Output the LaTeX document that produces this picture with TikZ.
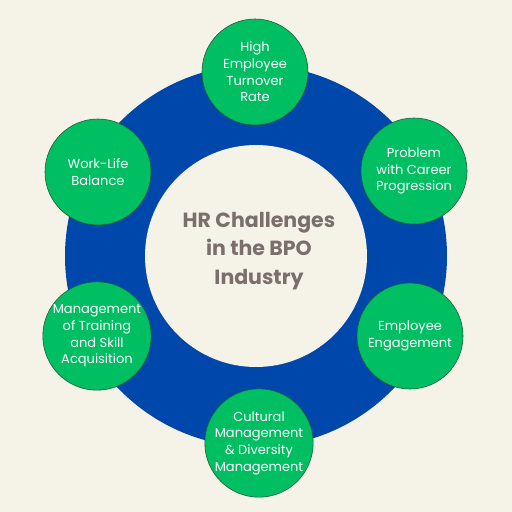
\documentclass[tikz,border=0pt]{standalone}
\usepackage{fontspec}
\setmainfont{Poppins}
\definecolor{bgcream}{HTML}{F5F2E8}
\definecolor{ringblue}{HTML}{0047AB}
\definecolor{leafgreen}{HTML}{00BF63}
\definecolor{edgegreen}{HTML}{1F5E38}
\definecolor{hubtext}{HTML}{7B6F6C}
\tikzset{
  challenge/.style={circle,minimum size=106pt,inner sep=0pt,fill=leafgreen,
    draw=edgegreen,line width=0.6pt,text=white,align=center,
    font=\fontsize{13}{16.7}\selectfont},
  hub/.style={align=center,text=hubtext,font=\bfseries\fontsize{20.5}{28.5}\selectfont}
}

\begin{document}
\begin{tikzpicture}[x=1pt,y=-1pt]
            \fill[bgcream] (0,0) rectangle (512,512);
            % ring
            \fill[ringblue] (256,256) circle (191pt);
            \fill[bgcream] (256,256) circle (111pt);
            \node[hub] (hub) at (259,251) {HR Challenges\\in the BPO\\Industry};
            % challenges round the ring
            \node[challenge] (turnover) at (255,72) {High\\Employee\\Turnover\\Rate};
            \node[challenge] (career) at (414,171) {Problem\\with Career\\Progression};
            \node[challenge] (engagement) at (410,336) {Employee\\Engagement};
            \node[challenge] (diversity) at (259,443) {Cultural\\Management\\\& Diversity\\Management};
            \node[challenge] (training) at (97,336) {Management\\of Training\\and Skill\\Acquisition};
            \node[challenge] (balance) at (98,172) {Work-Life\\Balance};
\end{tikzpicture}
\end{document}
